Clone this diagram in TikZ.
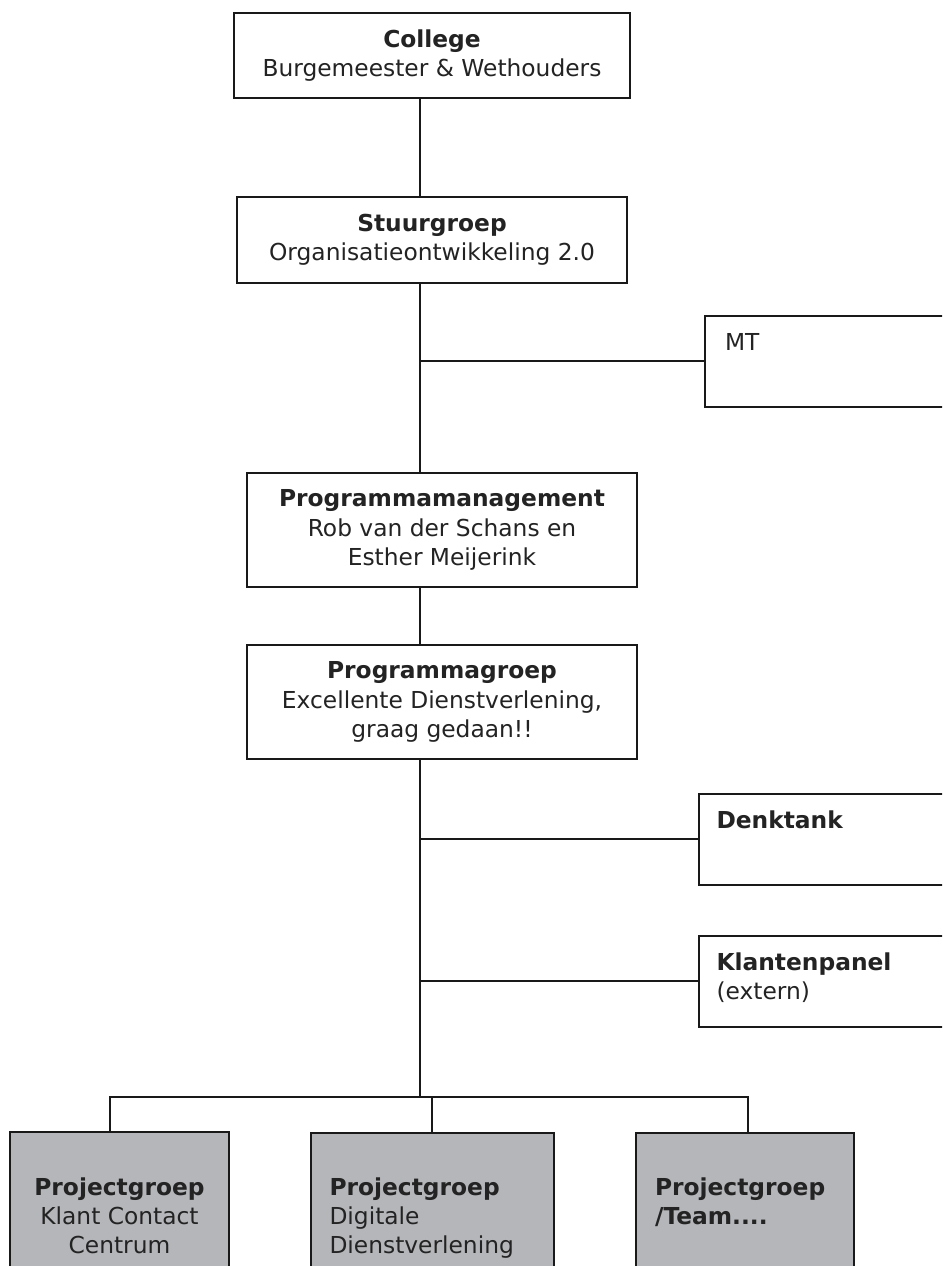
\documentclass[tikz,border=0pt]{standalone}
\usepackage{fontspec}
\setmainfont{DejaVu Sans}
\usetikzlibrary{positioning,calc}
\definecolor{lijn}{RGB}{25,25,25}
\definecolor{tekst}{RGB}{35,35,35}
\definecolor{projgrijs}{RGB}{181,182,186}
\tikzset{every picture/.style={line width=1.5pt}}
\tikzset{
  blok/.style={draw=lijn, fill=white, text=tekst, align=center, inner sep=0pt,
    font=\fontsize{17.5}{22}\selectfont, minimum width=292.5pt, minimum height=64.5pt},
  zijblok/.style={draw=lijn, fill=white, minimum width=195pt, minimum height=68.25pt},
  projblok/.style={draw=lijn, fill=projgrijs, minimum width=182.25pt, minimum height=126pt},
  vaktekst/.style={text=tekst, inner sep=0pt, font=\fontsize{17.5}{22}\selectfont},
}

\begin{document}
\begin{tikzpicture}[x=0.75pt,y=-0.75pt]
  \useasboundingbox (0,0) rectangle (942,1266);
  \clip (0,0) rectangle (942,1266);
  \coordinate (as) at (420,0);
  \coordinate (bus) at (420,1097);
  % bestuur
  \node[blok, minimum width=297pt, minimum height=63.75pt] (college) at (432,55.5)
    {\textbf{College}\\Burgemeester \& Wethouders};
  \node[blok] (stuur) at (432,240) {\textbf{Stuurgroep}\\Organisatieontwikkeling 2.0};
  \node[blok, minimum height=85.5pt] (pm) at (442,530)
    {\textbf{Programmamanagement}\\Rob van der Schans en\\Esther Meijerink};
  \node[blok, minimum height=85.5pt] (pg) at (442,702)
    {\textbf{Programmagroep}\\Excellente Dienstverlening,\\graag gedaan!!};
  % zijtakken
  \node[zijblok] (mt) at (835,361) {};
  \node[vaktekst, anchor=north west] (mttekst) at ($(mt.north west)+(20,14.5)$) {\strut MT};
  \node[zijblok] (dk) at (828.5,839) {};
  \node[vaktekst, anchor=north west] (dktekst) at ($(dk.north west)+(18,14.5)$)
    {\strut\textbf{Denktank}};
  \node[zijblok] (kp) at (828.5,981) {};
  \node[vaktekst, anchor=north west, align=left] (kptekst) at ($(kp.north west)+(18,14.5)$)
    {\strut\textbf{Klantenpanel}\\(extern)};
  % projectgroepen
  \node[projblok, minimum width=164.25pt] (p1) at (119.5,1216) {};
  \node[vaktekst, anchor=north, align=center] (p1tekst) at ($(p1.north)+(0,42.5)$)
    {\strut\textbf{Projectgroep}\\Klant Contact\\Centrum};
  \node[projblok] (p2) at (432,1217) {};
  \node[vaktekst, anchor=north west, align=left] (p2tekst) at ($(p2.north west)+(19,41.5)$)
    {\strut\textbf{Projectgroep}\\Digitale\\Dienstverlening};
  \node[projblok, minimum width=163.5pt] (p3) at (745,1217) {};
  \node[vaktekst, anchor=north west, align=left] (p3tekst) at ($(p3.north west)+(19,41.5)$)
    {\strut\textbf{Projectgroep}\\\textbf{/Team....}};
  % lijnen
  \draw[lijn] (college.south -| as) -- (stuur.north -| as);
  \draw[lijn] (stuur.south -| as) -- (pm.north -| as);
  \draw[lijn] (pm.south -| as) -- (pg.north -| as);
  \draw[lijn] (pg.south -| as) -- (bus);
  \draw[lijn] (mt.west) -- (mt.west -| as);
  \draw[lijn] (dk.west) -- (dk.west -| as);
  \draw[lijn] (kp.west) -- (kp.west -| as);
  \draw[lijn] ([xshift=-7pt]p1.north) |- (bus) -| ([xshift=2.25pt]p3.north);
  \draw[lijn] (p2.north) -- (p2.north |- bus);
\end{tikzpicture}
\end{document}
